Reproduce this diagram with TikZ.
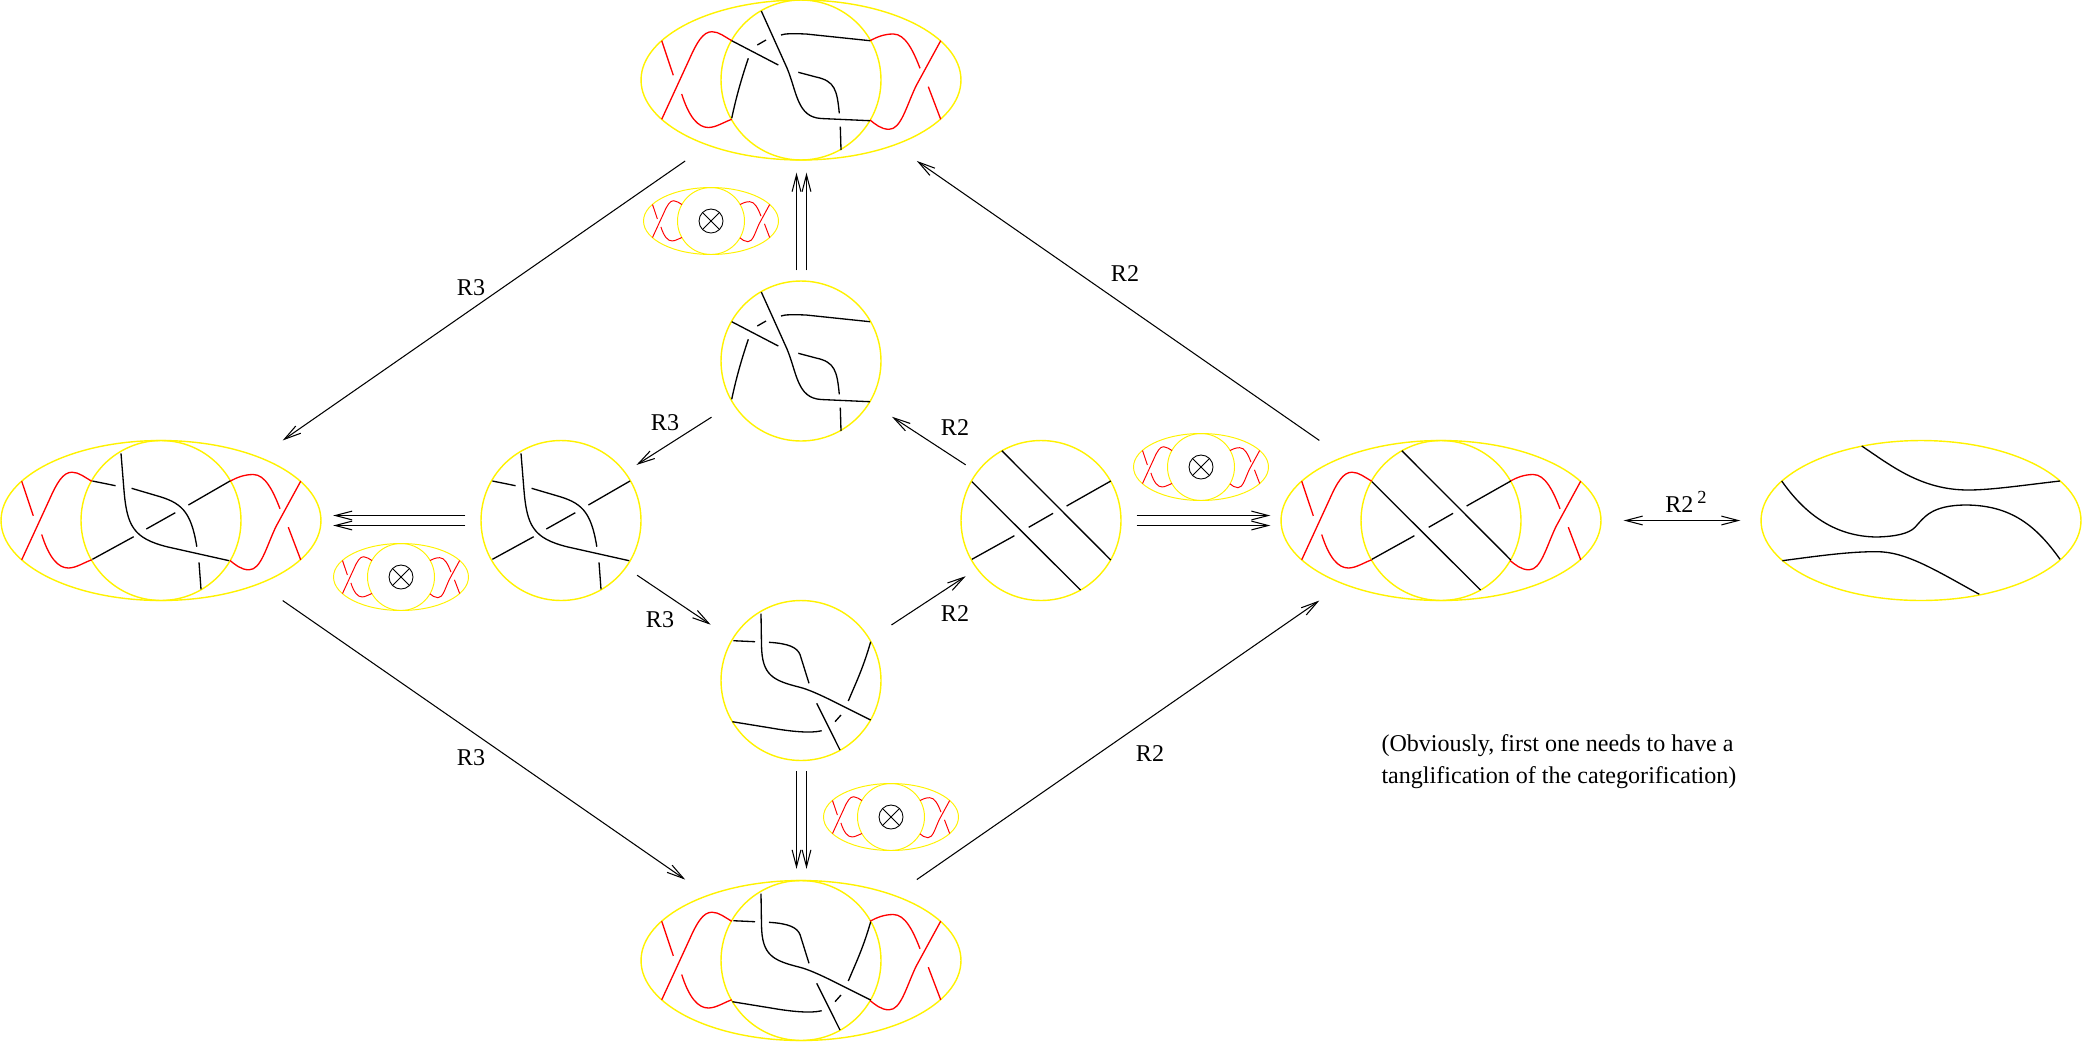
\documentclass[tikz,border=0pt]{standalone}
\usepackage{fontspec}
\setmainfont{Liberation Serif}
\usetikzlibrary{arrows.meta,shapes.geometric}
\tikzset{
    every node/.style={font=\fontsize{13.7}{18.2}\selectfont},
    every edge/.append style={line width=.6pt, -{Straight Barb[length=9.6pt,width=5pt]}},
    oval/.style={ellipse, draw=yellow, line width=.8pt, inner sep=0pt, minimum width=6.4cm, minimum height=3.2cm},
    disc/.style={circle, draw=yellow, line width=.8pt, inner sep=0pt, minimum size=3.2cm},
    smalloval/.style={ellipse, draw=yellow, line width=.55pt, inner sep=0pt, minimum width=2.7cm, minimum height=1.34cm},
    smalldisc/.style={circle, draw=yellow, line width=.55pt, inner sep=0pt, minimum size=1.34cm},
    tensor/.style={circle, draw, line width=.5pt, inner sep=0pt, minimum size=.48cm,
        path picture={\draw (path picture bounding box.north west) -- (path picture bounding box.south east)
            (path picture bounding box.north east) -- (path picture bounding box.south west);}},
    shrunk/.style={scale=.42, line width=.55pt}
}
\tikzset{
    redsides/.pic={
        \draw[red] (-139.3,-39.3) -- (-127.7,-4.7);
        \draw[red] (-139.3,39.3) -- (-112,-20) .. controls (-104,-38) and (-98,-48.3) .. (-89,-48.3) .. controls (-82,-48.3) and (-76,-43) .. (-69.3,-39.3);
        \draw[red] (-119.3,14) .. controls (-112,37) and (-103,47.5) .. (-92.7,47.5) .. controls (-85,47.5) and (-77,42) .. (-69.3,39.3);
        \draw[red] (69,-39.3) .. controls (76,-43) and (83,-46) .. (92.3,-46) .. controls (104,-46) and (112,-30) .. (119,-11.7);
        \draw[red] (139.7,-39.3) -- (115,6) .. controls (105,27) and (100,49.3) .. (88,49.3) .. controls (80,49.3) and (74,44) .. (69,40);
        \draw[red] (127.3,6.7) -- (139.7,39.3);
    },
    % R3 one way round, top pair
    knotup/.pic={
        \draw (-39.7,-69) -- (-14,-12) .. controls (-4,12) and (-4,37) .. (20,38.5) -- (69,40.7);
        \draw (-69.3,-39.3) -- (-22.7,-15);
        \draw (-69.3,38.3) .. controls (-65,18) and (-60,0) .. (-52.7,-21.7);
        \draw (-43.7,-35) -- (-35,-40);
        \draw (-20,-45) .. controls (-16,-46.5) and (-8,-46.5) .. (5,-46) -- (69,-39.3);
        \draw (-2.7,-7.7) -- (15,-3) .. controls (34,1) and (36,10) .. (38.3,33.3);
        \draw (39.3,46.7) -- (40,70);
    },
    % left pair
    knotleft/.pic={
        \draw (-40,-67.2) -- (-37,-30) .. controls (-34,5) and (-28,18) .. (7,26.5) -- (68.2,40.2);
        \draw (-68.6,-39.5) -- (-45.4,-34.8);
        \draw (-29.4,-32.2) -- (-5,-25) .. controls (20,-18) and (30,-10) .. (35.8,26.2);
        \draw (69,-39.5) -- (27.4,-15.5);
        \draw (-14.7,8.5) -- (14.3,-7.8);
        \draw (-68.6,38.8) -- (-27.3,16.2);
        \draw (38,41.8) -- (40,68.8);
    },
    % right pair, no crossing left to move
    knotright/.pic={
        \draw (-39.2,-69.8) -- (69.8,39.5);
        \draw (-69.1,-38.8) -- (39.5,69.5);
        \draw (69.8,-39.5) -- (25.6,-14.5);
        \draw (12.1,-7.2) -- (-12.3,6.8);
        \draw (-26.6,15.2) -- (-69.1,38.8);
    },
    % bottom pair
    knotdown/.pic={
        \draw (-40,-67) -- (-39.5,-35) .. controls (-39,-5) and (-28,0) .. (-1,6.8) .. controls (15,11) and (40,25) .. (69.7,39.5);
        \draw (-67.7,-39.8) -- (-46,-38.8);
        \draw (-32,-38.2) .. controls (-12,-37) and (-4,-33) .. (-1,-26) -- (8,2.8);
        \draw (69.7,-38.8) .. controls (62,-12) and (55,2) .. (47.3,20.5);
        \draw (15.7,22.8) -- (39,69.5);
        \draw (34,41.2) -- (40,34.5);
        \draw (-68.7,41.2) -- (-30,47.5) .. controls (-10,51) and (10,53) .. (20.7,50.2);
    },
    knotflat/.pic={
        \draw (-59.3,-74.5) .. controls (-30,-55) and (0,-30.5) .. (47.3,-30.5) .. controls (70,-30.5) and (100,-35) .. (139,-39.5);
        \draw (-139.3,-39.5) .. controls (-115,-5) and (-85,16) .. (-44.3,16.5) .. controls (-25,16) and (-12,13) .. (-6,6.8) .. controls (3,-3) and (10,-15.5) .. (45.7,-15.5) .. controls (90,-15) and (115,5) .. (139,38.8);
        \draw (-138.7,40.2) .. controls (-100,35) and (-70,31) .. (-44.3,31.2) .. controls (-15,31) and (15,50) .. (58.3,73.8);
    }
}

\begin{document}
\begin{tikzpicture}[x=.02cm, y=-.02cm, line width=.75pt]
	\useasboundingbox (0,0) rectangle (2082,1042);

	\node (top) [oval] at (801,80) {};
	\node (left) [oval] at (161,520.5) {};
	\node (right) [oval] at (1441,520.5) {};
	\node (bottom) [oval] at (801,960.5) {};
	\node (far) [oval] at (1921,520.5) {};
	\node (topin) [disc] at (801,80) {};
	\node (leftin) [disc] at (161,520.5) {};
	\node (rightin) [disc] at (1441,520.5) {};
	\node (bottomin) [disc] at (801,960.5) {};
	\node (midtop) [disc] at (801,361) {};
	\node (midleft) [disc] at (561,520.5) {};
	\node (midright) [disc] at (1041,520.5) {};
	\node (midbottom) [disc] at (801,680.5) {};

	\pic at (top) {redsides}; \pic at (top) {knotup};
	\pic at (left) {redsides}; \pic at (left) {knotleft};
	\pic at (right) {redsides}; \pic at (right) {knotright};
	\pic at (bottom) {redsides}; \pic at (bottom) {knotdown};
	\pic at (far) {knotflat};
	\pic at (midtop) {knotup}; \pic at (midleft) {knotleft};
	\pic at (midright) {knotright}; \pic at (midbottom) {knotdown};

	\foreach \name/\xpos/\ypos in {a/711/221, b/401/577, c/1201/467, d/891/817} {
		\node (oval\name) [smalloval] at (\xpos,\ypos) {};
		\node (disc\name) [smalldisc] at (\xpos,\ypos) {};
		\node (tensor\name) [tensor] at (\xpos,\ypos) {};
		\pic [shrunk] at (oval\name) {redsides};
	}

	\draw (top.-145) edge [shorten <=.54cm, shorten >=.57cm] (left.33);
	\draw (left.-33) edge [shorten <=.57cm, shorten >=.54cm] (bottom.145);
	\draw (bottom.35) edge [shorten <=.54cm, shorten >=.57cm] (right.-147);
	\draw (right.147) edge [shorten <=.57cm, shorten >=.54cm] (top.-35);
	\draw (midtop.-148.6) edge [shorten <=.5cm, shorten >=.26cm] (midleft.37);
	\draw (midleft.-36) edge [shorten <=.26cm, shorten >=.51cm] (midbottom.149);
	\draw (midbottom.31) edge [shorten <=.51cm, shorten >=.26cm] (midright.-143);
	\draw (midright.143) edge [shorten <=.26cm, shorten >=.52cm] (midtop.-31);

	\draw ([xshift=-.09cm]midtop.north) edge [shorten <=.2cm, shorten >=.24cm] ([xshift=-.09cm]top.south);
	\draw ([xshift=.11cm]midtop.north) edge [shorten <=.2cm, shorten >=.24cm] ([xshift=.11cm]top.south);
	\draw ([xshift=-.09cm]midbottom.south) edge [shorten <=.2cm, shorten >=.22cm] ([xshift=-.09cm]bottom.north);
	\draw ([xshift=.11cm]midbottom.south) edge [shorten <=.2cm, shorten >=.22cm] ([xshift=.11cm]bottom.north);
	\draw ([yshift=.1cm]midleft.west) edge [shorten <=.3cm, shorten >=.23cm] ([yshift=.1cm]left.east);
	\draw ([yshift=-.1cm]midleft.west) edge [shorten <=.3cm, shorten >=.23cm] ([yshift=-.1cm]left.east);
	\draw ([yshift=.1cm]midright.east) edge [shorten <=.3cm, shorten >=.2cm] ([yshift=.1cm]right.west);
	\draw ([yshift=-.1cm]midright.east) edge [shorten <=.3cm, shorten >=.2cm] ([yshift=-.1cm]right.west);
	\draw (right.east) edge [{Straight Barb[length=9.6pt,width=5pt]}-{Straight Barb[length=9.6pt,width=5pt]}, shorten <=.44cm, shorten >=.4cm] (far.west);

	\node (labela) at (471,288) {R3};
	\node (labelb) at (1125,274) {R2};
	\node (labelc) at (665,423) {R3};
	\node (labeld) at (955,428) {R2};
	\node (labele) at (660,620) {R3};
	\node (labelf) at (955,614) {R2};
	\node (labelg) at (471,758) {R3};
	\node (labelh) at (1150,754) {R2};
	\node (labeli) at (1686,502) {R2\,\raisebox{5.5pt}{\fontsize{10.5}{10.5}\selectfont 2}};
	\node (note) [align=left, anchor=north west] at (1375,728) {(Obviously, first one needs to have a\\tanglification of the categorification)};
\end{tikzpicture}
\end{document}
